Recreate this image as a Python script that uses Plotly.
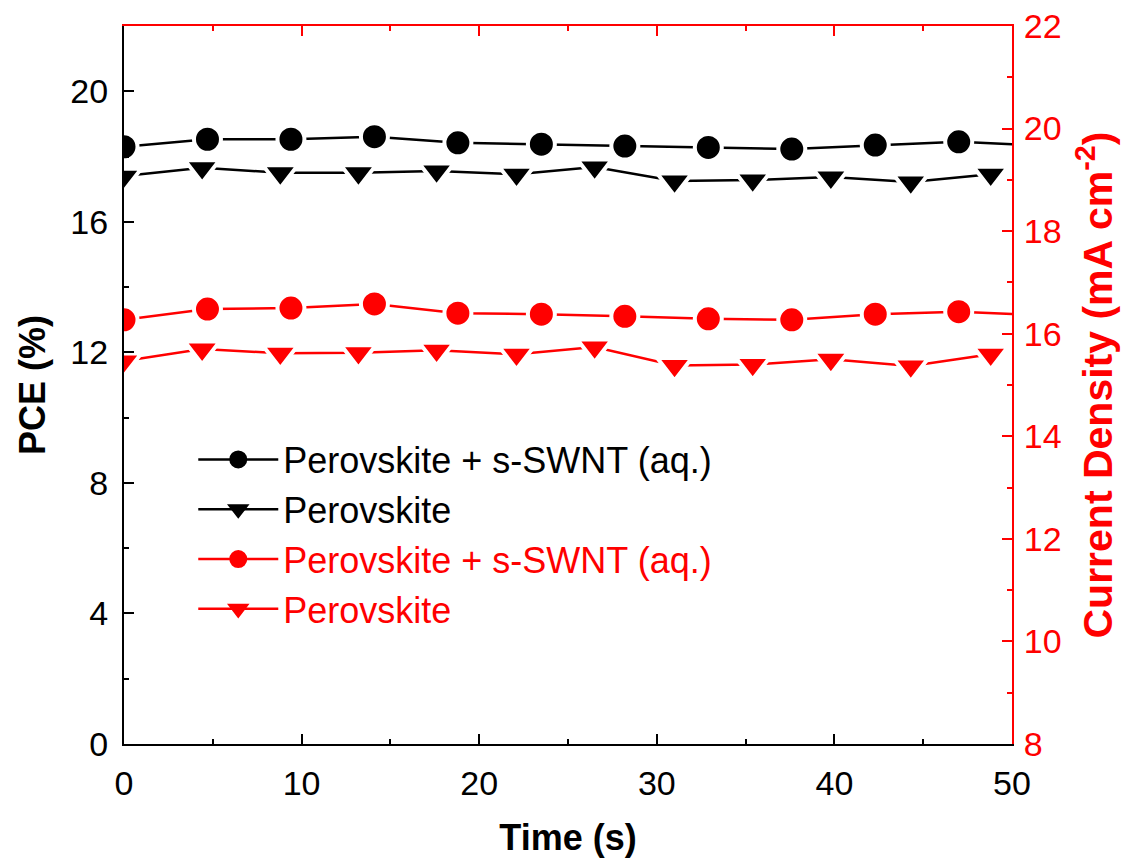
import plotly.graph_objects as go

# ---- data ----
time_swnt = [0.0, 4.7, 9.4, 14.1, 18.8, 23.5, 28.2, 32.9, 37.6, 42.3, 47.0, 51.7]
pce_swnt = [18.30, 18.53, 18.53, 18.61, 18.42, 18.38, 18.32, 18.28, 18.23, 18.35, 18.45, 18.33]
time_pero = [0.0, 4.4, 8.8, 13.2, 17.6, 22.1, 26.5, 31.0, 35.4, 39.8, 44.3, 48.8]
pce_pero = [17.40, 17.66, 17.50, 17.50, 17.56, 17.46, 17.68, 17.25, 17.28, 17.37, 17.22, 17.46]
jsc_swnt = [16.27, 16.48, 16.50, 16.58, 16.40, 16.38, 16.34, 16.29, 16.27, 16.38, 16.43, 16.36]
jsc_pero = [15.47, 15.70, 15.62, 15.63, 15.68, 15.60, 15.74, 15.38, 15.40, 15.50, 15.37, 15.60]

label_swnt = "Perovskite + s-SWNT (aq.)"
label_pero = "Perovskite"

RED = "#ff0000"
BLACK = "#000000"
FONT = "Liberation Sans, Arial, sans-serif"
TICK_SIZE = 34
TITLE_SIZE = 36
RIGHT_TITLE_SIZE = 41
LEGEND_SIZE = 36

fig = go.Figure()

def add(x, y, name, color, symbol, yaxis, group, size):
    # data trace (white ring around markers gives the gap between line and marker)
    fig.add_trace(go.Scatter(
        x=x, y=y, name=name, mode="lines+markers", yaxis=yaxis,
        legendgroup=group, showlegend=False,
        line=dict(color=color, width=2.5),
        marker=dict(symbol=symbol, size=size, color=color,
                    line=dict(color="white", width=4)),
    ))
    # legend entry
    fig.add_trace(go.Scatter(
        x=[None], y=[None], name=name, mode="lines+markers", yaxis=yaxis,
        legendgroup=group, showlegend=True, hoverinfo="skip",
        line=dict(color=color, width=2.5),
        marker=dict(symbol=symbol, size=16, color=color,
                    line=dict(color=color, width=2)),
    ))

add(time_swnt, pce_swnt, label_swnt, BLACK, "circle", "y", "a", 27)
add(time_pero, pce_pero, label_pero, BLACK, "triangle-down", "y", "b", 30)
add(time_swnt, jsc_swnt, f"<span style='color:{RED}'>{label_swnt}</span>", RED, "circle", "y2", "c", 27)
add(time_pero, jsc_pero, f"<span style='color:{RED}'>{label_pero}</span>", RED, "triangle-down", "y2", "d", 30)

tickfont = dict(family=FONT, size=TICK_SIZE, color=BLACK)

# The page body has an 8px default margin, so the figure is shrunk by 8px.
fig.update_layout(
    template="none",
    width=1113, height=850,
    paper_bgcolor="white", plot_bgcolor="white",
    margin=dict(l=116, r=109, t=18, b=114, autoexpand=False),
    font=dict(family=FONT, color=BLACK),
    showlegend=True,
    legend=dict(
        x=0.078, y=0.438, xanchor="left", yanchor="top",
        font=dict(family=FONT, size=LEGEND_SIZE, color=BLACK),
        bgcolor="rgba(0,0,0,0)", tracegroupgap=0, traceorder="grouped",
        itemwidth=80, borderwidth=0,
    ),
    xaxis=dict(
        range=[0, 50], showgrid=False, zeroline=False, automargin=False,
        showline=True, linecolor=BLACK, linewidth=2,
        ticks="inside", ticklen=10, tickwidth=2, tickcolor=BLACK,
        dtick=10, tick0=0, ticklabelstandoff=8, ticklabeloverflow="allow",
        minor=dict(ticks="inside", ticklen=5, tickwidth=2, tickcolor=BLACK, dtick=5),
        tickfont=tickfont,
        title=dict(text="<b>Time (s)</b>", font=dict(family=FONT, size=TITLE_SIZE, color=BLACK), standoff=26),
    ),
    xaxis2=dict(
        range=[0, 50], overlaying="x", side="top", matches="x", automargin=False,
        showgrid=False, zeroline=False, showticklabels=False,
        showline=True, linecolor=RED, linewidth=2,
        ticks="inside", ticklen=10, tickwidth=2, tickcolor=RED,
        dtick=10, tick0=0,
        minor=dict(ticks="inside", ticklen=5, tickwidth=2, tickcolor=RED, dtick=5),
    ),
    yaxis=dict(
        range=[0, 22], showgrid=False, zeroline=False, automargin=False,
        showline=True, linecolor=BLACK, linewidth=2,
        ticks="inside", ticklen=10, tickwidth=2, tickcolor=BLACK,
        dtick=4, tick0=0, ticklabelstandoff=7, ticklabeloverflow="allow",
        minor=dict(ticks="inside", ticklen=5, tickwidth=2, tickcolor=BLACK, dtick=2),
        tickfont=tickfont,
        title=dict(text="<b>PCE (%)</b>", font=dict(family=FONT, size=TITLE_SIZE, color=BLACK), standoff=14),
    ),
    yaxis2=dict(
        range=[8, 22], overlaying="y", side="right", automargin=False,
        showgrid=False, zeroline=False,
        showline=True, linecolor=RED, linewidth=2,
        ticks="inside", ticklen=10, tickwidth=2, tickcolor=RED,
        dtick=2, tick0=8, ticklabelstandoff=3, ticklabeloverflow="allow",
        minor=dict(ticks="inside", ticklen=5, tickwidth=2, tickcolor=RED, dtick=1),
        tickfont=dict(family=FONT, size=TICK_SIZE, color=RED),
        title=dict(text="<b>Current Density (mA cm<sup>-2</sup>)</b>",
                   font=dict(family=FONT, size=RIGHT_TITLE_SIZE, color=RED), standoff=24),
    ),
)

# invisible trace to activate the top axis
fig.add_trace(go.Scatter(x=[None], y=[None], xaxis="x2", showlegend=False, hoverinfo="skip"))

fig.write_html("out.html")
